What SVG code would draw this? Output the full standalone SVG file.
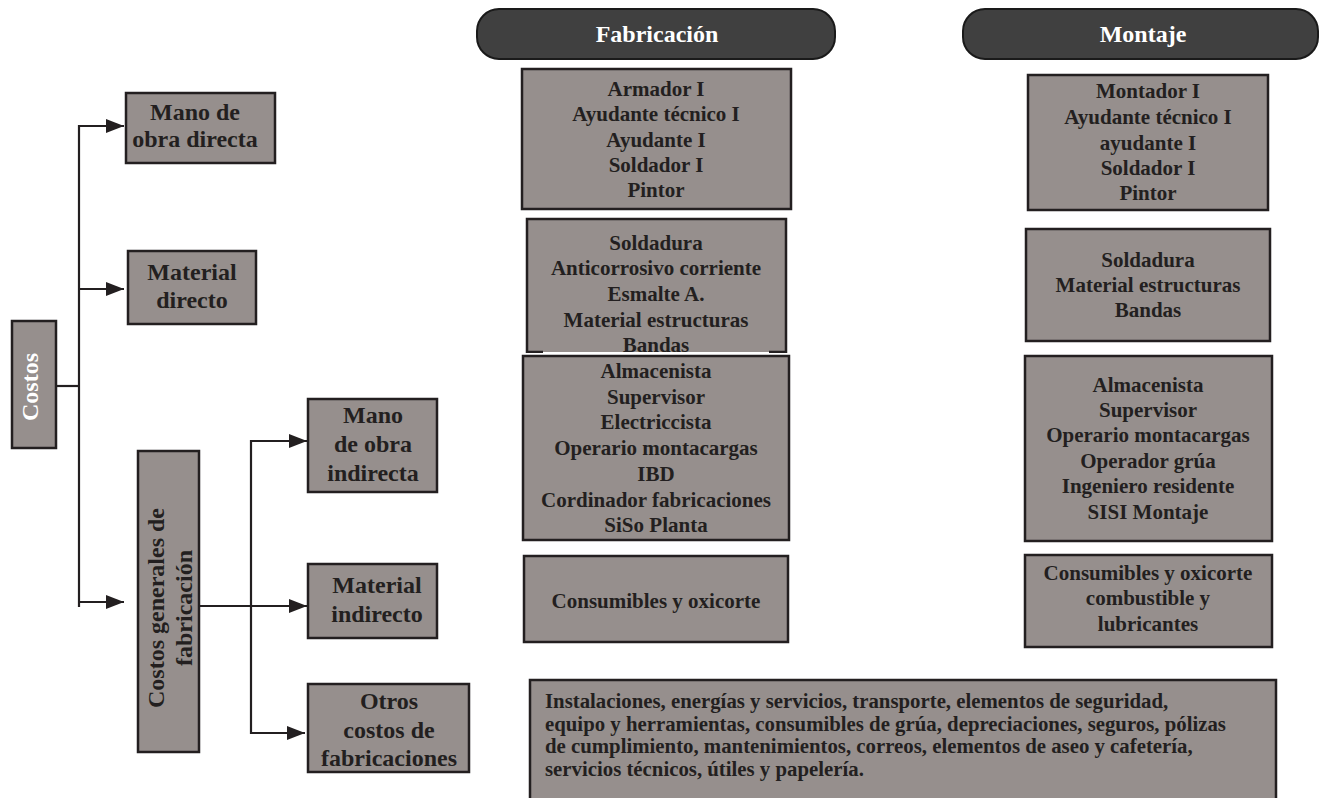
<svg xmlns="http://www.w3.org/2000/svg" width="1320" height="798" viewBox="0 0 1320 798">
<defs>
<style>
.box{fill:#968f8d;stroke:#231f20;stroke-width:2.5}
.pill{fill:#404040;stroke:#1a1a1a;stroke-width:2}
.t{font-family:"Liberation Serif","Times New Roman",serif;font-weight:bold;fill:#231f20;text-anchor:middle}
.l{font-size:24px}
.r{font-size:21px}
.w{fill:#ffffff}
.p{font-size:20.8px;text-anchor:start}
.c{fill:none;stroke:#231f20;stroke-width:2.2}
</style>
<marker id="ah" markerUnits="userSpaceOnUse" markerWidth="18" markerHeight="14" refX="18" refY="7" orient="auto">
<path d="M0,0 L18,7 L0,14 z" fill="#231f20"/>
</marker>
</defs>
<rect width="1320" height="798" fill="#ffffff"/>

<g id="connectors">
<line class="c" x1="56" y1="386" x2="79" y2="386"/>
<line class="c" x1="79" y1="125" x2="79" y2="607"/>
<line class="c" x1="79" y1="126" x2="124" y2="126" marker-end="url(#ah)"/>
<line class="c" x1="79" y1="289" x2="124" y2="289" marker-end="url(#ah)"/>
<line class="c" x1="79" y1="602" x2="124" y2="602" marker-end="url(#ah)"/>
<line class="c" x1="251" y1="440" x2="251" y2="734"/>
<line class="c" x1="199" y1="606" x2="307" y2="606" marker-end="url(#ah)"/>
<line class="c" x1="251" y1="441" x2="307" y2="441" marker-end="url(#ah)"/>
<line class="c" x1="251" y1="733" x2="305" y2="733" marker-end="url(#ah)"/>
</g>

<g id="costos">
<rect class="box" x="12" y="321" width="44" height="127"/>
<text class="t l w" transform="translate(38,387) rotate(-90)">Costos</text>
</g>

<g id="mano-obra-directa">
<rect class="box" x="126" y="93" width="149" height="70"/>
<text class="t l" x="195" y="120">Mano de</text>
<text class="t l" x="195" y="147">obra directa</text>
</g>

<g id="material-directo">
<rect class="box" x="128" y="251" width="128" height="73"/>
<text class="t l" x="192" y="280">Material</text>
<text class="t l" x="192" y="308">directo</text>
</g>

<g id="costos-generales">
<rect class="box" x="138" y="451" width="61" height="301"/>
<text class="t l" transform="translate(164,608) rotate(-90)">Costos generales de</text>
<text class="t l" transform="translate(192,608) rotate(-90)">fabricación</text>
</g>

<g id="mano-obra-indirecta">
<rect class="box" x="308" y="399" width="129" height="93"/>
<text class="t l" x="373" y="423">Mano</text>
<text class="t l" x="373" y="452">de obra</text>
<text class="t l" x="373" y="481">indirecta</text>
</g>

<g id="material-indirecto">
<rect class="box" x="308" y="564" width="129" height="74"/>
<text class="t l" x="377" y="593">Material</text>
<text class="t l" x="377" y="622">indirecto</text>
</g>

<g id="otros-costos">
<rect class="box" x="308" y="684" width="161" height="88"/>
<text class="t l" x="389" y="709">Otros</text>
<text class="t l" x="389" y="738">costos de</text>
<text class="t l" x="389" y="766">fabricaciones</text>
</g>

<g id="fabricacion">
<rect class="pill" x="477" y="9" width="358" height="50" rx="22"/>
<text class="t w" font-size="24" x="657" y="42">Fabricación</text>
</g>

<g id="montaje">
<rect class="pill" x="963" y="9" width="355" height="50" rx="22"/>
<text class="t w" font-size="24" x="1143" y="42">Montaje</text>
</g>

<g id="fab-mod">
<rect class="box" x="522" y="69" width="269" height="140"/>
<text class="t r" x="656" y="96">Armador I</text>
<text class="t r" x="656" y="121">Ayudante técnico I</text>
<text class="t r" x="656" y="147">Ayudante I</text>
<text class="t r" x="656" y="172">Soldador I</text>
<text class="t r" x="656" y="197">Pintor</text>
</g>

<g id="fab-md">
<rect x="527" y="219" width="259" height="133" fill="#968f8d"/>
<path d="M543,352 L527,352 L527,219 L786,219 L786,352 L769,352" fill="none" stroke="#231f20" stroke-width="2.5"/>
<text class="t r" x="656" y="250">Soldadura</text>
<text class="t r" x="656" y="275">Anticorrosivo corriente</text>
<text class="t r" x="656" y="301">Esmalte A.</text>
<text class="t r" x="656" y="327">Material estructuras</text>
<text class="t r" x="656" y="352">Bandas</text>
</g>

<g id="fab-moi">
<rect x="520" y="353" width="272" height="190" fill="#ffffff"/>
<rect class="box" x="523" y="356" width="266" height="184"/>
<text class="t r" x="656" y="378">Almacenista</text>
<text class="t r" x="656" y="404">Supervisor</text>
<text class="t r" x="656" y="429">Electriccista</text>
<text class="t r" x="656" y="455">Operario montacargas</text>
<text class="t r" x="656" y="481">IBD</text>
<text class="t r" x="656" y="507">Cordinador fabricaciones</text>
<text class="t r" x="656" y="532">SiSo Planta</text>
</g>

<g id="fab-mi">
<rect class="box" x="524" y="556" width="264" height="86"/>
<text class="t r" x="656" y="608">Consumibles y oxicorte</text>
</g>

<g id="mon-mod">
<rect class="box" x="1028" y="75" width="240" height="135"/>
<text class="t r" x="1148" y="98">Montador I</text>
<text class="t r" x="1148" y="124">Ayudante técnico I</text>
<text class="t r" x="1148" y="150">ayudante I</text>
<text class="t r" x="1148" y="175">Soldador I</text>
<text class="t r" x="1148" y="200">Pintor</text>
</g>

<g id="mon-md">
<rect class="box" x="1026" y="229" width="244" height="112"/>
<text class="t r" x="1148" y="267">Soldadura</text>
<text class="t r" x="1148" y="292">Material estructuras</text>
<text class="t r" x="1148" y="317">Bandas</text>
</g>

<g id="mon-moi">
<rect class="box" x="1025" y="356" width="247" height="185"/>
<text class="t r" x="1148" y="392">Almacenista</text>
<text class="t r" x="1148" y="417">Supervisor</text>
<text class="t r" x="1148" y="442">Operario montacargas</text>
<text class="t r" x="1148" y="468">Operador grúa</text>
<text class="t r" x="1148" y="493">Ingeniero residente</text>
<text class="t r" x="1148" y="519">SISI Montaje</text>
</g>

<g id="mon-mi">
<rect class="box" x="1025" y="555" width="247" height="92"/>
<text class="t r" x="1148" y="580">Consumibles y oxicorte</text>
<text class="t r" x="1148" y="605">combustible y</text>
<text class="t r" x="1148" y="631">lubricantes</text>
</g>

<g id="otros-detalle">
<rect class="box" x="530" y="680" width="746" height="125"/>
<text class="t p" x="545" y="708">Instalaciones, energías y servicios, transporte, elementos de seguridad,</text>
<text class="t p" x="545" y="731">equipo y herramientas, consumibles de grúa, depreciaciones, seguros, pólizas</text>
<text class="t p" x="545" y="753">de cumplimiento, mantenimientos, correos, elementos de aseo y cafetería,</text>
<text class="t p" x="545" y="776">servicios técnicos, útiles y papelería.</text>
</g>
</svg>
